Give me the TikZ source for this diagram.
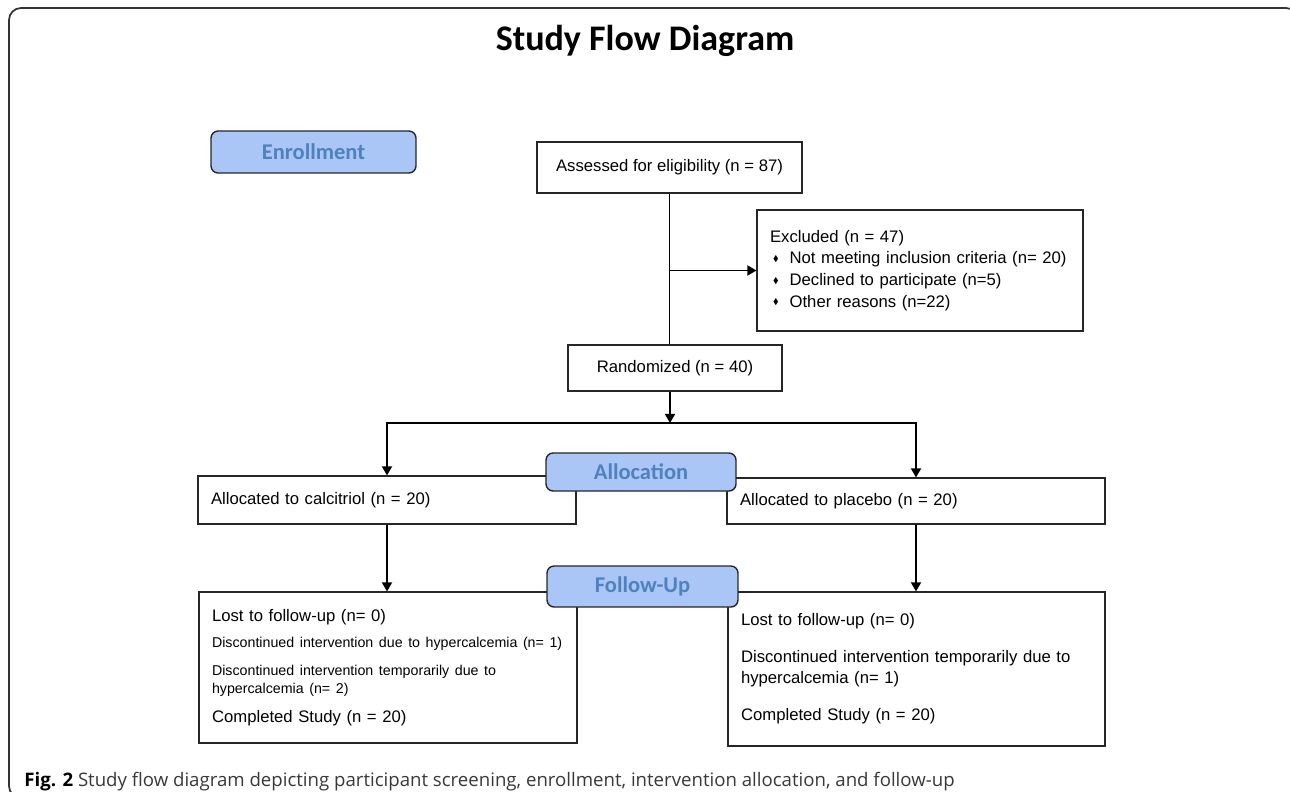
\documentclass[tikz,border=0pt]{standalone}
\usepackage{amssymb}
\usepackage{fontspec}
\setmainfont{Liberation Sans}
\newfontfamily\calfont{Carlito}
\newfontfamily\capfont{Open Sans}
\usepackage{xcolor}
\usetikzlibrary{arrows.meta, positioning, calc}

\definecolor{stagefill}{HTML}{A9C6F7}
\definecolor{stagetext}{HTML}{4F81BD}
\newcommand{\exclbullet}{\raisebox{0.3ex}{\scalebox{0.5}{$\blacklozenge$}}}

\begin{document}
\begin{tikzpicture}[
    x=0.02cm, y=-0.02cm,
    box/.style = {rectangle, draw=black!85, line width=0.7pt, fill=white, inner sep=0pt, font=\fontsize{9.5}{11}\selectfont},
    textbox/.style = {box, align=left, inner xsep=0.26cm},
    stage/.style = {rectangle, draw=black!85, line width=0.8pt, fill=stagefill, text=stagetext, rounded corners=4pt, inner sep=0pt, font=\calfont\bfseries\fontsize{12.8}{14}\selectfont},
    frame/.style = {draw=black!80, line width=1pt, rounded corners=0.24cm},
    line/.style = {line width=0.9pt},
    arrow/.style = {line width=0.9pt, -{Triangle[length=5.2pt,width=5.8pt]}}
]
\useasboundingbox (0,0) rectangle (1290,791);

% Outer frame
\begin{scope}
\clip (0,0) rectangle (1290,791);
\draw [frame] (9,8) rectangle (1298,798);
\end{scope}

% Title
\node (title) [anchor=base, inner sep=0pt, font=\calfont\bfseries\fontsize{20.5}{24}\selectfont] at (645,50) {Study Flow Diagram};

% Nodes
\node (enroll) [stage, minimum width=4.1cm, minimum height=0.84cm] at (313.5,152) {Enrollment};
\node (assessed) [box, minimum width=5.3cm, minimum height=1.02cm] at (669.5,167.5) {Assessed for eligibility (n = 87)};
\node (excluded) [textbox, text width=6.0cm, minimum height=2.42cm, font=\fontsize{9.5}{12.4}\selectfont] at (920,270.5) {Excluded (n = 47)\\
\hspace*{0.06cm}\exclbullet\hspace{0.22cm}Not meeting inclusion criteria (n= 20)\\
\hspace*{0.06cm}\exclbullet\hspace{0.22cm}Declined to participate (n=5)\\
\hspace*{0.06cm}\exclbullet\hspace{0.22cm}Other reasons (n=22)};
\node (randomized) [box, minimum width=4.28cm, minimum height=0.92cm] at (675,368) {Randomized (n = 40)};

\node (allocL) [textbox, text width=7.04cm, minimum height=0.96cm] at (387,500) {Allocated to calcitriol (n = 20)};
\node (allocR) [textbox, text width=7.04cm, minimum height=0.92cm] at (916,501) {Allocated to placebo (n = 20)};

\node (followL) [textbox, text width=7.04cm, minimum height=3.02cm] at (388,667.5) {Lost to follow-up (n= 0)\\[3.6pt]
{\fontsize{8.1}{9.5}\selectfont Discontinued intervention due to hypercalcemia (n= 1)}\\[5.2pt]
{\fontsize{8.1}{9.5}\selectfont Discontinued intervention temporarily due to}\\[-0.8pt]
{\fontsize{8.1}{9.5}\selectfont hypercalcemia (n= 2)}\\[5.2pt]
Completed Study (n = 20)};
\node (followR) [textbox, text width=7.02cm, minimum height=3.08cm] at (916.5,669) {Lost to follow-up (n= 0)\\[10pt]
Discontinued intervention temporarily due to\\[1pt]
hypercalcemia (n= 1)\\[10pt]
Completed Study (n = 20)};

% Stage labels
\node (allocation) [stage, minimum width=3.8cm, minimum height=0.76cm] at (641,472) {Allocation};
\node (followup) [stage, minimum width=3.82cm, minimum height=0.82cm] at (642.5,586.5) {Follow-Up};

% Arrows
\coordinate (split) at (670,423);
\draw [line] (assessed.south) -- (assessed.south |- randomized.north);
\draw [arrow] (assessed.south |- excluded.west) -- (excluded.west);
\draw [arrow] (randomized.south -| split) -- (split);
\draw [arrow] (split) -| (allocL.north);
\draw [arrow] (split) -| (allocR.north);
\draw [arrow] (allocL.south) -- (allocL.south |- followL.north);
\draw [arrow] (allocR.south) -- (allocR.south |- followR.north);

% Caption
\node (caption) [anchor=base west, inner sep=0pt, text=black!78, font=\capfont\fontsize{10.6}{12}\selectfont] at (24,786) {\textbf{\color{black}Fig. 2} Study flow diagram depicting participant screening, enrollment, intervention allocation, and follow-up};

\end{tikzpicture}
\end{document}
